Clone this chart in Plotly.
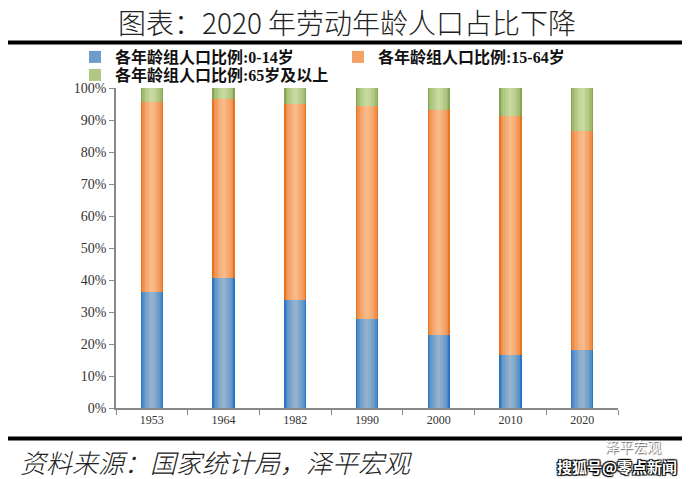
import numpy as np
import plotly.graph_objects as go

years = ["1953", "1964", "1982", "1990", "2000", "2010", "2020"]
age_0_14 = [36.3, 40.7, 33.6, 27.7, 22.9, 16.6, 18.0]
age_15_64 = [59.3, 55.8, 61.5, 66.7, 70.1, 74.5, 68.5]
age_65_plus = [4.4, 3.5, 4.9, 5.6, 7.0, 8.9, 13.5]

series_names = ["各年龄组人口比例:0-14岁", "各年龄组人口比例:15-64岁", "各年龄组人口比例:65岁及以上"]
series_values = [age_0_14, age_15_64, age_65_plus]
series_legends = ["legend", "legend", "legend2"]
edge_colors = [(40, 118, 196), (232, 116, 34), (134, 166, 84)]
center_colors = [(148, 178, 206), (249, 186, 138), (200, 218, 158)]

N_LAYERS = 8
BAR_W = 0.31

# the page body has an 8px margin; plot area placed so it lands at x 116..618, y 88..408 in the window
OFF = 8
PL, PT, PW, PH = 116, 88, 502, 320


def px(xw):
    return (xw - PL) / PW


def py(yw):
    return (PT + PH - yw) / PH


def mix(c1, c2, t):
    return "rgb(%d,%d,%d)" % tuple(round(a + (b - a) * t) for a, b in zip(c1, c2))


fig = go.Figure()
bases = np.zeros(len(years))
for s, (name, vals) in enumerate(zip(series_names, series_values)):
    vals = np.array(vals, dtype=float)
    for k in range(N_LAYERS):
        t = (k / (N_LAYERS - 1)) ** 0.5
        fig.add_trace(go.Bar(
            x=years, y=vals, base=bases,
            width=BAR_W * (1 - k / N_LAYERS),
            marker=dict(color=mix(edge_colors[s], center_colors[s], t), line=dict(width=0)),
            name=name, legendgroup=name, showlegend=(k == 3),
            legend=series_legends[s], legendrank=s + 1,
        ))
    bases = bases + vals

legend_font = dict(family="Liberation Serif, Noto Sans CJK SC", size=16, color="#111", weight="bold")
fig.update_layout(
    width=690, height=479,
    margin=dict(l=PL - OFF, r=690 - (PL - OFF) - PW, t=PT - OFF, b=479 - (PT - OFF) - PH),
    paper_bgcolor="white", plot_bgcolor="white",
    barmode="overlay", bargap=0,
    font=dict(family="Liberation Serif, Noto Sans CJK SC", color="#222"),
    showlegend=True,
    legend=dict(
        orientation="h", x=px(75), xanchor="left", y=py(57), yanchor="middle",
        entrywidth=218, entrywidthmode="pixels", traceorder="normal",
        font=legend_font, itemwidth=30, bgcolor="rgba(0,0,0,0)",
    ),
    legend2=dict(
        orientation="h", x=px(75), xanchor="left", y=py(75), yanchor="middle",
        font=legend_font, itemwidth=30, bgcolor="rgba(0,0,0,0)",
    ),
    xaxis=dict(
        type="category", showline=True, linecolor="#888", linewidth=1.5,
        ticks="outside", tickson="boundaries", ticklen=5, tickcolor="#888",
        tickfont=dict(size=12, color="#333"), showgrid=False,
        range=[-0.5, 6.5],
    ),
    yaxis=dict(
        range=[0, 100], dtick=10, ticksuffix="%", showline=True, linecolor="#888",
        linewidth=1.5, ticks="outside", ticklen=5, tickcolor="#888",
        tickfont=dict(size=14, color="#333"), showgrid=False, zeroline=False,
    ),
)

# title
fig.add_annotation(
    text="图表：2020 年劳动年龄人口占比下降", xref="paper", yref="paper",
    x=px(347), y=py(22), xanchor="center", yanchor="middle",
    showarrow=False, font=dict(family="Noto Sans CJK SC", size=28, color="#222", weight=300),
)
# thick rules
for ypix in (42.5, 438.5):
    fig.add_shape(type="line", xref="paper", yref="paper",
                  x0=px(4), x1=px(688), y0=py(ypix), y1=py(ypix),
                  line=dict(color="black", width=4))
# source
fig.add_annotation(
    text="<i>资料来源：国家统计局，泽平宏观</i>", xref="paper", yref="paper",
    x=px(18), y=py(461), xanchor="left", yanchor="middle",
    showarrow=False, font=dict(family="Noto Sans CJK SC", size=26, color="#222", weight=300),
)
# watermark
fig.add_annotation(
    text="泽平宏观", xref="paper", yref="paper",
    x=px(633), y=py(446), xanchor="center", yanchor="middle",
    showarrow=False, font=dict(family="Noto Sans CJK SC", size=14, color="white",
                               shadow="1px 1px 1px #666"),
)
fig.add_annotation(
    text="搜狐号@零点新闻", xref="paper", yref="paper",
    x=px(617), y=py(466), xanchor="center", yanchor="middle",
    showarrow=False, font=dict(family="Noto Sans CJK SC", size=15, color="white",
                               weight="bold", shadow="1px 1px 1px #000, -1px -1px 1px #000, 1px -1px 1px #000, -1px 1px 1px #000"),
)

fig.write_html("out.html")
